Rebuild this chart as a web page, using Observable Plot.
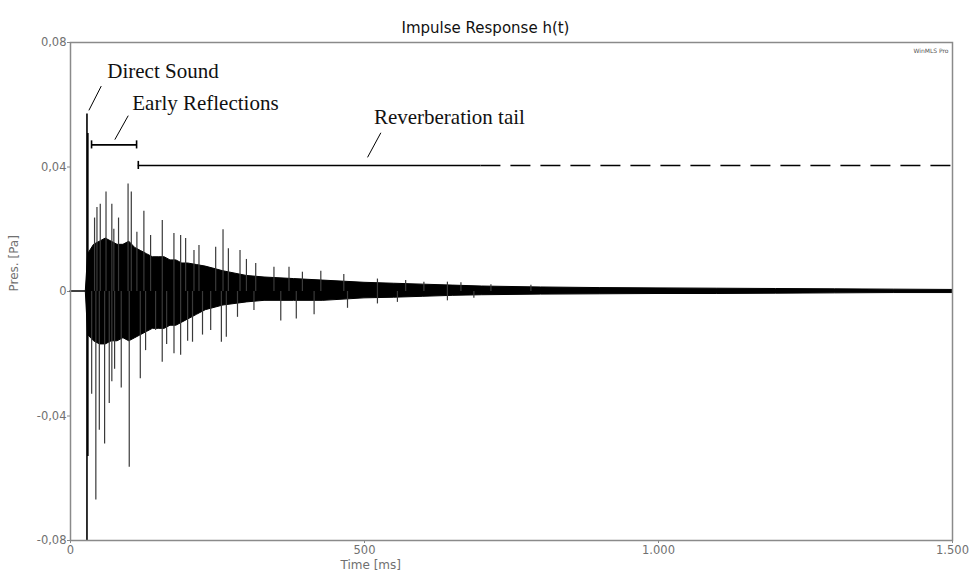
<!DOCTYPE html>
<html>
<head>
<meta charset="utf-8">
<script src="https://cdn.jsdelivr.net/npm/d3@7"></script>
<script src="https://cdn.jsdelivr.net/npm/@observablehq/plot@0.6"></script>
<style>
  html, body { margin: 0; padding: 0; background: white; }
  #chart svg { display: block; }
</style>
</head>
<body>
<div id="chart"></div>
<script>
// ---- Data ----
const xTicks = [0, 500, 1000, 1500];
const yTicks = [-0.08, -0.04, 0, 0.04, 0.08];

// Direct sound impulse (ms, Pa)
const directT  = [28, 29.5];
const directHi = [0.057, 0.0508];
const directLo = [-0.08, -0.053];

// Dense core of the response (envelope of the black band)
const envT  = [0, 26, 30, 40, 50, 60, 70, 80, 90, 100, 110, 120, 130, 140, 150, 160, 170, 180, 190, 200, 215, 230, 260, 300, 330, 380, 430, 500, 550, 600, 650, 700, 800, 900, 1000, 1100, 1200, 1300, 1400, 1500];
const envHi = [0, 0, 0.012, 0.015, 0.016, 0.017, 0.016, 0.015, 0.015, 0.016, 0.014, 0.013, 0.012, 0.011, 0.011, 0.011, 0.010, 0.010, 0.009, 0.009, 0.0085, 0.008, 0.0065, 0.005, 0.0045, 0.004, 0.0035, 0.0028, 0.0025, 0.0022, 0.0019, 0.0016, 0.0013, 0.0011, 0.001, 0.0009, 0.0008, 0.0007, 0.0006, 0.0005];
const envLo = [0, 0, -0.014, -0.016, -0.017, -0.017, -0.016, -0.016, -0.015, -0.016, -0.015, -0.014, -0.013, -0.012, -0.012, -0.012, -0.011, -0.011, -0.010, -0.009, -0.0075, -0.006, -0.0045, -0.0035, -0.003, -0.003, -0.003, -0.0022, -0.002, -0.0017, -0.0014, -0.0012, -0.001, -0.0009, -0.0008, -0.0008, -0.0007, -0.0006, -0.0005, -0.0005];

// Individual peaks standing out of the band
const posT = [40.9, 45, 50.6, 60.4, 70.3, 73.7, 81.7, 97.9, 103.4, 112.9, 124.8, 136.2, 156.1, 175.9, 187.3, 195.8, 210, 218.5, 246.9, 259.4, 268.5, 288.3, 299.2, 315, 346, 371.6, 394.4, 425.7, 464.8, 522, 570, 601, 641, 664, 715, 783];
const posV = [0.0236, 0.027, 0.028, 0.032, 0.028, 0.020, 0.0236, 0.0345, 0.032, 0.019, 0.0258, 0.018, 0.0228, 0.0186, 0.018, 0.017, 0.0132, 0.0148, 0.0142, 0.0198, 0.0137, 0.0132, 0.0103, 0.009, 0.0078, 0.0078, 0.0062, 0.0065, 0.0055, 0.004, 0.0035, 0.003, 0.003, 0.0028, 0.0022, 0.002];
const negT = [36, 43.1, 49, 58, 65.9, 70.3, 75, 86.3, 99.9, 118.7, 127.7, 144.7, 156, 163.5, 176, 187.3, 199.2, 207.5, 224.5, 238.4, 256.6, 265, 284, 312, 357.6, 384, 414.3, 471.1, 522, 556, 641, 686];
const negV = [-0.033, -0.067, -0.0446, -0.049, -0.036, -0.029, -0.025, -0.031, -0.0565, -0.028, -0.019, -0.0125, -0.0227, -0.017, -0.020, -0.0205, -0.016, -0.0163, -0.014, -0.0125, -0.0163, -0.0147, -0.0083, -0.0061, -0.0095, -0.0088, -0.0075, -0.0054, -0.004, -0.0035, -0.003, -0.0022];

// Annotations
const labels  = ["Direct Sound", "Early Reflections", "Reverberation tail"];
const labelT  = [62.5, 105, 516];
const labelV  = [0.0687, 0.0584, 0.0539];
const leadT1  = [52.3, 98.2, 527.8];
const leadV1  = [0.066, 0.0565, 0.051];
const leadT2  = [31.3, 75.4, 505.2];
const leadV2  = [0.0582, 0.0488, 0.0431];
const earlyRange = [35.8, 112.4];
const earlyLevel = 0.0471;
const tailSolid  = [115.3, 698];
const tailDashed = [698, 1500];
const tailLevel  = 0.0405;
const capHalf = 0.0013; // half-height of bracket end caps

// ---- Build tables ----
const env = envT.map((t, i) => ({t, hi: envHi[i], lo: envLo[i]}));
const direct = directT.map((t, i) => ({t, hi: directHi[i], lo: directLo[i]}));
const spikes = posT.map((t, i) => ({t, v: posV[i]})).concat(negT.map((t, i) => ({t, v: negV[i]})));
const notes = labels.map((s, i) => ({s, t: labelT[i], v: labelV[i]}));
const leads = labels.map((s, i) => ({t1: leadT1[i], v1: leadV1[i], t2: leadT2[i], v2: leadV2[i]}));
const solidBars = [
  {t1: earlyRange[0], t2: earlyRange[1], v: earlyLevel},
  {t1: tailSolid[0], t2: tailSolid[1], v: tailLevel}
];
const dashedBars = [{t1: tailDashed[0], t2: tailDashed[1], v: tailLevel}];
const bracketEnds = [
  {t: earlyRange[0], v: earlyLevel}, {t: earlyRange[1], v: earlyLevel}, {t: tailSolid[0], v: tailLevel}
];

const loc = d3.formatLocale({decimal: ",", thousands: ".", grouping: [3], currency: ["", ""], minus: "-"});
const fmtX = loc.format(",");
const fmtY = d => d === 0 ? "0" : loc.format(".2f")(d);

const serif = "'Liberation Serif', 'Times New Roman', serif";

const chart = Plot.plot({
  width: 972,
  height: 573,
  marginLeft: 70,
  marginRight: 20,
  marginTop: 42,
  marginBottom: 33,
  style: {fontFamily: "'DejaVu Sans', sans-serif", fontSize: "11.5px", color: "#707070", background: "white"},
  x: {type: "linear", domain: [0, 1500]},
  y: {type: "linear", domain: [-0.08, 0.08]},
  marks: [
    Plot.axisX({ticks: xTicks, tickFormat: fmtX, tickSize: 3, tickPadding: 2, label: null, stroke: "#888"}),
    Plot.axisY({ticks: yTicks, tickFormat: fmtY, tickSize: 3, tickPadding: 1, label: null, stroke: "#888"}),
    // waveform
    Plot.areaY(env, {x: "t", y1: "lo", y2: "hi", fill: "black", stroke: "black", strokeWidth: 1, curve: "linear"}),
    Plot.ruleX(spikes, {x: "t", y1: 0, y2: "v", stroke: "#3a3a3a", strokeWidth: 1.2}),
    Plot.ruleX(direct, {x: "t", y1: "lo", y2: "hi", stroke: "black", strokeWidth: 1.6}),
    // frame
    Plot.frame({stroke: "#8a8a8a", strokeWidth: 1.5}),
    // annotations
    Plot.link(leads, {x1: "t1", y1: "v1", x2: "t2", y2: "v2", stroke: "black", strokeWidth: 1}),
    Plot.ruleY(solidBars, {x1: "t1", x2: "t2", y: "v", stroke: "black", strokeWidth: 1.6}),
    Plot.ruleY(dashedBars, {x1: "t1", x2: "t2", y: "v", stroke: "black", strokeWidth: 1.6, strokeDasharray: "20,10"}),
    Plot.ruleX(bracketEnds, {x: "t", y1: d => d.v - capHalf, y2: d => d.v + capHalf, stroke: "black", strokeWidth: 1.6}),
    Plot.text(notes, {x: "t", y: "v", text: "s", textAnchor: "start", lineAnchor: "bottom", fill: "#111", fontFamily: serif, fontSize: 21}),
    // titles
    Plot.text(["Impulse Response h(t)"], {text: d => d, frameAnchor: "top", dx: -26, dy: -20, fill: "#111", fontSize: 15, fontFamily: "'DejaVu Sans', sans-serif"}),
    Plot.text(["WinMLS Pro"], {text: d => d, frameAnchor: "top-right", dx: -4, dy: 6, textAnchor: "end", fill: "#555", fontSize: 6}),
    Plot.text(["Time [ms]"], {text: d => d, frameAnchor: "bottom-left", dx: 270, dy: 28, fill: "#707070", fontSize: 12}),
    Plot.text(["Pres. [Pa]"], {text: d => d, frameAnchor: "left", dx: -56, rotate: -90, fill: "#707070", fontSize: 12})
  ]
});
document.getElementById("chart").appendChild(chart);
</script>
</body>
</html>
